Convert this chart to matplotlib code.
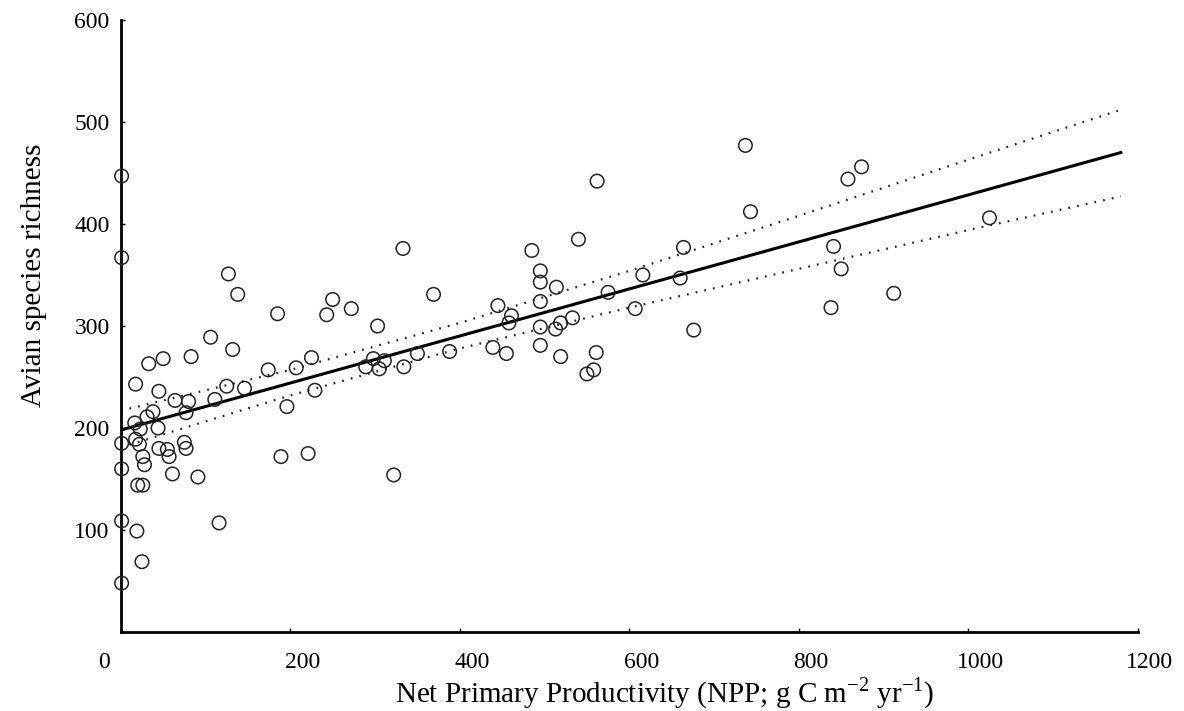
import matplotlib
matplotlib.use("Agg")
import matplotlib.pyplot as plt
import matplotlib.transforms as mtransforms
import numpy as np

# Scatter data: NPP (x) and avian species richness (y)
npp = [1, 1, 127, 138, 185, 106, 132, 50, 33, 83, 174, 207, 17.5, 45, 125, 146,
       64, 80, 111, 38, 77, 196, 31, 16.5, 23, 44, 1, 17.5, 22, 45, 55, 57, 75, 77,
       26, 28, 1, 61, 91, 20, 26, 189, 221, 1, 19, 116, 25, 1,
       562, 540, 485, 333, 495, 495, 514, 369, 250, 272, 243, 303, 445, 461, 458,
       495, 495, 519, 513, 533, 561, 550, 558, 495, 519, 439, 455, 388, 350, 334,
       305, 289, 298, 311, 225, 229, 322,
       737, 874, 858, 743, 664, 841, 616, 660, 850, 575, 607, 676, 838, 912, 1025]
richness = [447, 367, 351, 331, 312, 289, 277, 268, 263, 270, 257, 259, 243, 236, 241, 239,
            227, 226, 228, 216, 215, 221, 211, 205, 199, 200, 185, 189, 184, 180, 179, 172, 186, 180,
            172, 164, 160, 155, 152, 144, 144, 172, 175, 109, 99, 107, 69, 48,
            442, 385, 374, 376, 354, 343, 338, 331, 326, 317, 311, 300, 320, 310, 303,
            324, 299, 303, 297, 308, 274, 253, 257, 281, 270, 279, 273, 275, 273, 260,
            258, 260, 268, 266, 269, 237, 154,
            477, 456, 444, 412, 377, 378, 350, 347, 356, 333, 317, 296, 318, 332, 406]

# Regression line and confidence band
fit_x = [0, 1180]
fit_y = [198, 470]
ci_x = [0, 200, 400, 600, 800, 1000, 1180]
ci_upper = [217, 257, 303, 354, 408, 463, 512]
ci_lower = [181, 232, 278, 318, 356, 394, 427]

xticks = [0, 200, 400, 600, 800, 1000, 1200]
yticks = [100, 200, 300, 400, 500, 600]

plt.rcParams['font.family'] = ['Liberation Serif', 'DejaVu Serif']
plt.rcParams['mathtext.fontset'] = 'custom'
plt.rcParams['mathtext.rm'] = 'Liberation Serif'

fig = plt.figure(figsize=(11.84, 7.11), dpi=100)
ax = fig.add_axes([0.102, 0.111, 0.859, 0.861])

ax.scatter(npp, richness, s=95, facecolors='none', edgecolors='#222222',
           linewidths=1.1, zorder=3, clip_on=False)
ax.plot(fit_x, fit_y, color='black', lw=2.2, zorder=2)
ax.plot(ci_x, ci_upper, color='#222222', lw=1.6, linestyle=(0, (0.8, 3.2)), zorder=2)
ax.plot(ci_x, ci_lower, color='#222222', lw=1.6, linestyle=(0, (0.8, 3.2)), zorder=2)

ax.set_xlim(0, 1200)
ax.set_ylim(0, 600)
ax.set_xticks(xticks)
ax.set_yticks(yticks)
ax.spines['top'].set_visible(False)
ax.spines['right'].set_visible(False)
ax.spines['left'].set_linewidth(2)
ax.spines['bottom'].set_linewidth(2)
ax.tick_params(axis='both', direction='in', length=3, width=1, labelsize=17)
ax.tick_params(axis='x', pad=14)
ax.tick_params(axis='y', pad=8)

# small horizontal offsets of the x tick labels as in the scanned original
for i, lab in enumerate(ax.get_xticklabels()):
    dx = -17 if i == 0 else 12
    lab.set_transform(lab.get_transform() +
                      mtransforms.ScaledTranslation(dx / 100, 0, fig.dpi_scale_trans))

ax.set_xlabel(r'Net Primary Productivity (NPP; g C m$^{\mathregular{-2}}$ yr$^{\mathregular{-1}}$)',
              fontsize=21)
ax.xaxis.set_label_coords(0.535, -0.071)
ax.set_ylabel('Avian species richness', fontsize=21)
ax.yaxis.set_label_coords(-0.073, 0.583)

fig.savefig('out.png', dpi=100)
